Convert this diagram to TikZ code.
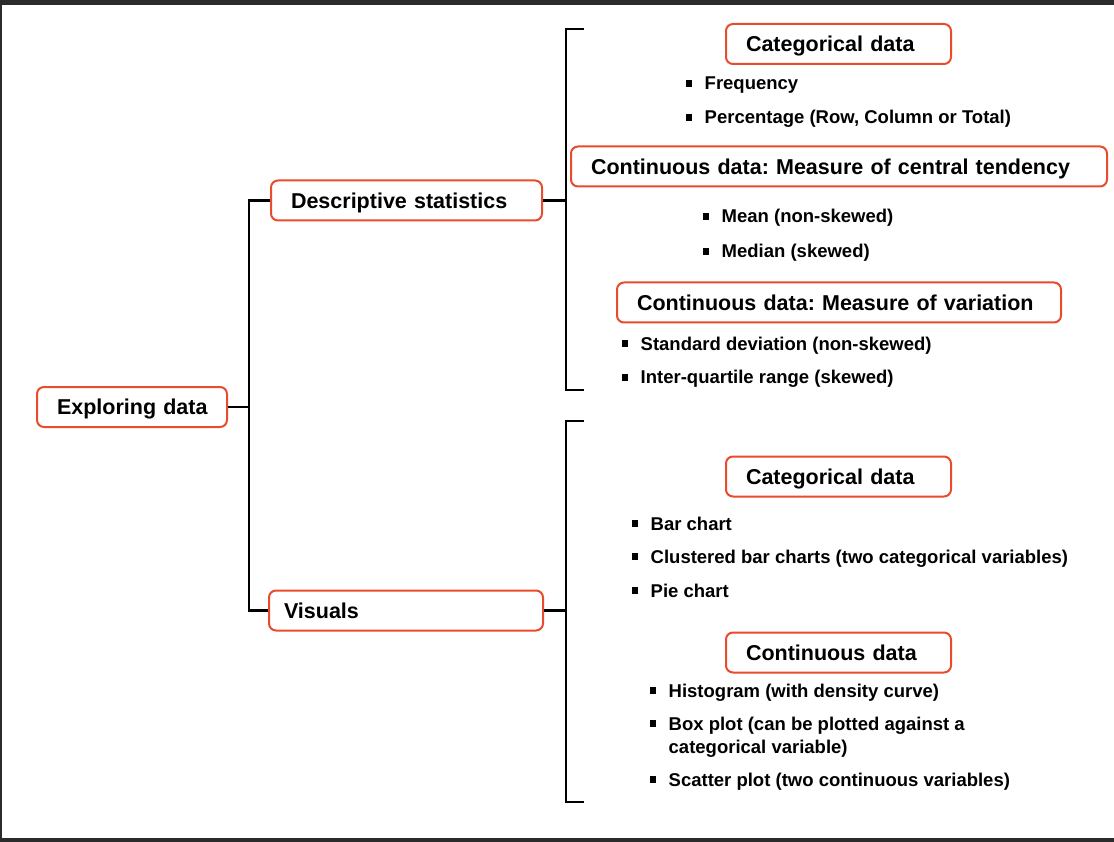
\documentclass[tikz,border=0pt]{standalone}
\usepackage{fontspec}
\setmainfont{Liberation Sans}
\usepackage{xcolor}
\usetikzlibrary{positioning,calc}
\definecolor{boxorange}{RGB}{233, 76, 44}
\definecolor{framegray}{RGB}{43, 43, 43}
\newcommand{\itm}{\makebox[18.5pt][l]{\rule[3.2pt]{5.5pt}{6.5pt}}}
\frenchspacing

\begin{document}
\begin{tikzpicture}[
    x=1pt, y=-1pt,
    box/.style={draw=boxorange, line width=2pt, rounded corners=7pt, fill=white, align=left, inner xsep=20pt, inner ysep=0pt, minimum height=40pt, text height=15.5pt, text depth=0pt, font=\fontsize{21.5}{26}\selectfont\bfseries},
    item/.style={inner sep=0pt, align=left, anchor=base west, font=\fontsize{18.5}{23}\selectfont\bfseries},
    link/.style={line width=2.2pt, black}
]

% Frame
\useasboundingbox (0,0) rectangle (1114,842);
\fill[framegray] (0,0) rectangle (1114,842);
\fill[white] (2,5) rectangle (1114,838);

% Root and branches
\node[box, text width=150pt] (explore) at (132,407) {\mbox{Exploring data}};
\node[box, text width=231pt] (desc) at (406.5,200.5) {Descriptive statistics};
\node[box, inner xsep=15pt, text width=244pt] (vis) at (406,610.5) {Visuals};

% Descriptive statistics
\node[box, text width=185pt] (cat1) at (838.5,44) {Categorical data};
\node[item] (freq) at (686,90) {\itm Frequency};
\node[item] (perc) at (686,124) {\itm Percentage (Row, Column or Total)};
\node[box, text width=496pt] (central) at (839,166.5) {Continuous data: Measure of central tendency};
\node[item] (mean) at (703,223) {\itm Mean (non-skewed)};
\node[item] (median) at (703,258) {\itm Median (skewed)};
\node[box, text width=404pt] (variation) at (839,302.5) {Continuous data: Measure of variation};
\node[item] (sd) at (622,350) {\itm Standard deviation (non-skewed)};
\node[item] (iqr) at (622,384) {\itm Inter-quartile range (skewed)};

% Visuals
\node[box, text width=185pt] (cat2) at (838.5,476.5) {Categorical data};
\node[item] (bar) at (632,530) {\itm Bar chart};
\node[item] (clustered) at (632,563) {\itm Clustered bar charts (two categorical variables)};
\node[item] (pie) at (632,597) {\itm Pie chart};
\node[box, text width=185pt] (cont) at (838.5,652.5) {Continuous data};
\node[item] (hist) at (650,697) {\itm Histogram (with density curve)};
\node[item] (boxplot) at (650,753) {\itm Box plot (can be plotted against a\\\hspace*{18.5pt}categorical variable)};
\node[item] (scatter) at (650,786) {\itm Scatter plot (two continuous variables)};

% Connectors - tree
\coordinate (trunk) at (249,407);
\draw[link] (explore.east) -- (trunk);
\draw[link] (desc.west) -| (trunk) |- (vis.west);

% Connectors - brackets
\coordinate (spine1) at (566,200.5);
\coordinate (top1) at (584,29);
\coordinate (bot1) at (584,390);
\draw[link] (desc.east) -- (spine1);
\draw[link] (top1) -| (spine1) |- (bot1);

\coordinate (spine2) at (566,610.5);
\coordinate (top2) at (584,421);
\coordinate (bot2) at (584,802);
\draw[link] (vis.east) -- (spine2);
\draw[link] (top2) -| (spine2) |- (bot2);

\end{tikzpicture}
\end{document}
